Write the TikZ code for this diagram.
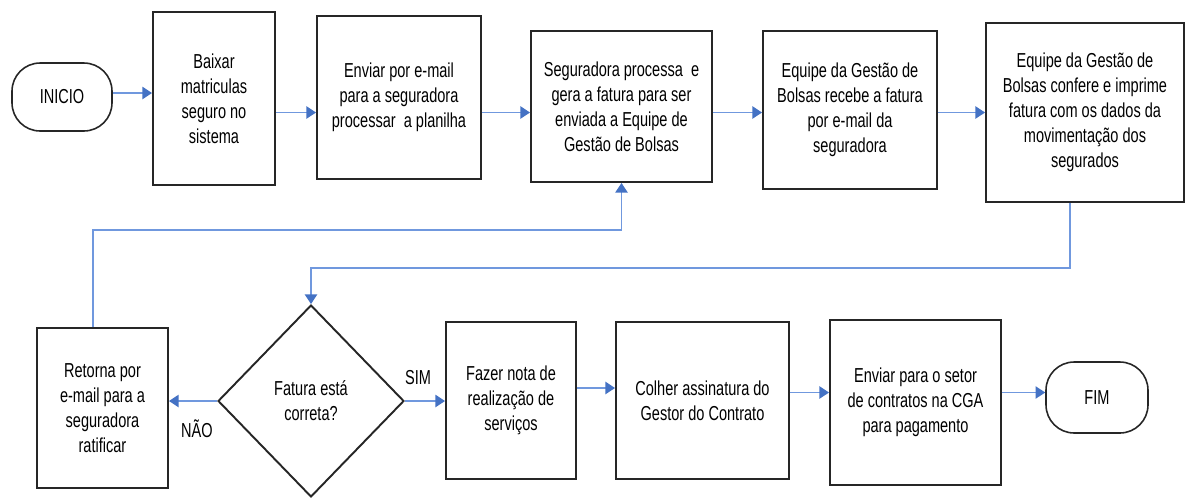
\documentclass[tikz,border=0pt]{standalone}
\usepackage{fontspec}
\setmainfont[FakeStretch=0.72]{Liberation Sans}
\usetikzlibrary{shapes.geometric,arrows.meta}

\definecolor{flowline}{RGB}{112,152,222}
\definecolor{flowtip}{RGB}{68,114,196}

\tikzset{
  etapa/.style={draw=black!85, line width=1.1pt, align=center, inner sep=2pt},
  terminal/.style={rectangle, rounded corners=16pt, draw=black!85, line width=0.9pt, minimum width=2cm, minimum height=1.36cm},
  decisao/.style={diamond, draw=black!85, line width=1.1pt, align=center, inner sep=0pt, minimum width=3.72cm, minimum height=3.84cm},
  fluxo/.style={draw=flowline, line width=0.8pt, -{Triangle[length=5.5pt,width=7pt,color=flowtip]}}
}

\begin{document}
\begin{tikzpicture}[x=0.02cm, y=-0.02cm, font=\fontsize{11.5}{14.2}\selectfont]
        \useasboundingbox (0,0) rectangle (1187,498);

        % Linha de cima
        \node[terminal] (inicio) at (62,97) {INICIO};
        \node[etapa, minimum width=2.44cm, minimum height=3.46cm] (baixar) at (214,98.5) {Baixar\\matriculas\\seguro no\\sistema};
        \node[etapa, minimum width=3.28cm, minimum height=3.26cm] (enviar) at (399,97.5) {Enviar por e-mail\\para a seguradora\\processar\ \ a planilha};
        \node[etapa, minimum width=3.62cm, minimum height=3.02cm] (segur) at (621.5,106.5) {Seguradora processa\ \ e\\gera a fatura para ser\\enviada a Equipe de\\Gestão de Bolsas};
        \node[etapa, minimum width=3.48cm, minimum height=3.16cm] (recebe) at (850,110) {Equipe da Gestão de\\Bolsas recebe a fatura\\por e-mail da\\seguradora};
        \node[etapa, minimum width=3.96cm, minimum height=3.58cm] (confere) at (1085,112.5) {Equipe da Gestão de\\Bolsas confere e imprime\\fatura com os dados da\\movimentação dos\\segurados};

        % Linha de baixo
        \node[etapa, minimum width=2.62cm, minimum height=3.2cm] (retorna) at (102.5,408) {Retorna por\\e-mail para a\\seguradora\\ratificar};
        \node[decisao] (correta) at (311,401) {Fatura está\\correta?};
        \node[etapa, minimum width=2.6cm, minimum height=3.14cm] (fazer) at (511,400.5) {Fazer nota de\\realização de\\serviços};
        \node[etapa, minimum width=3.46cm, minimum height=3.14cm] (colher) at (702.5,400.5) {Colher assinatura do\\Gestor do Contrato};
        \node[etapa, minimum width=3.42cm, minimum height=3.3cm] (setor) at (915.5,402.5) {Enviar para o setor\\de contratos na CGA\\para pagamento};
        \node[terminal, minimum width=2.04cm, minimum height=1.42cm] (fim) at (1097,397.5) {FIM};

        \node (sim) at (418,378) {SIM};
        \node (nao) at (197,429) {NÃO};

        % Alturas das setas
        \coordinate (r0) at (0,93);
        \coordinate (r1) at (0,112.5);
        \coordinate (r2) at (0,388);
        \coordinate (r3) at (0,392.5);
        \coordinate (v1) at (0,268);
        \coordinate (v2) at (0,230);

        % Setas
        \draw[fluxo] (inicio.east |- r0) -- (baixar.west |- r0);
        \draw[fluxo] (baixar.east |- r1) -- (enviar.west |- r1);
        \draw[fluxo] (enviar.east |- r1) -- (segur.west |- r1);
        \draw[fluxo] (segur.east |- r1) -- (recebe.west |- r1);
        \draw[fluxo] (recebe.east |- r1) -- (confere.west |- r1);
        \draw[fluxo] ([xshift=-0.3cm]confere.south) |- (correta.north |- v1) -- (correta.north);
        \draw[fluxo] (correta.west) -- (retorna.east |- correta.west);
        \draw[fluxo] ([xshift=-0.19cm]retorna.north) |- (segur.south |- v2) -- (segur.south);
        \draw[fluxo] (correta.east) -- (fazer.west |- correta.east);
        \draw[fluxo] (fazer.east |- r2) -- (colher.west |- r2);
        \draw[fluxo] (colher.east |- r3) -- (setor.west |- r3);
        \draw[fluxo] (setor.east |- r3) -- (fim.west |- r3);
\end{tikzpicture}
\end{document}
